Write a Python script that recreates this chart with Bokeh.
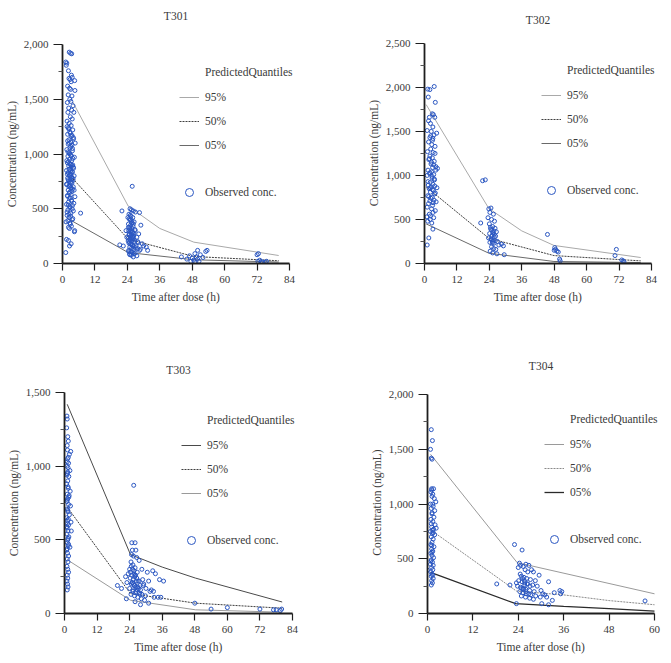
from bokeh.plotting import figure
from bokeh.layouts import column, row
from bokeh.models import (Range1d, FixedTicker, NumeralTickFormatter, Legend,
                          LegendItem, Label, Title)
from bokeh.embed import file_html
from bokeh.resources import INLINE

FONT = "Liberation Serif"
POINT_COLOR = "#2b57c2"
TEXT_COLOR = "#3a3a3a"

# ---------------- T301 ----------------
t301_time = [2.5, 3.0, 3.4, 1.2, 1.6, 1.4, 2.2, 3.3, 3.6, 2.4, 2.8, 3.2, 4.5, 1.9, 2.6, 3.0,
             4.6, 2.1, 3.5, 2.7, 3.1, 1.8, 3.9, 2.3, 3.4, 2.0, 4.2, 2.9, 3.6, 1.7, 2.5, 3.2,
             2.2, 3.8, 2.7, 1.9, 3.3, 4.0, 2.4, 3.0, 4.7, 2.1, 3.5, 2.8, 1.6, 3.7, 2.5, 3.1,
             2.0, 4.4, 2.6, 3.4, 1.8, 2.9, 3.8, 2.3, 3.2, 4.1, 2.7, 1.5, 3.6, 2.1, 3.0, 2.5,
             4.3, 3.4, 1.9, 2.8, 3.9, 2.3, 3.2, 1.6, 2.6, 4.0, 3.0, 2.1, 3.5, 2.5, 1.8, 4.6,
             2.9, 3.3, 2.2, 1.5, 3.7, 2.7, 2.0, 4.0, 3.1, 6.7, 1.7, 2.4, 3.6, 1.3, 2.9, 2.2,
             2.6, 4.4, 1.5, 2.2, 3.2, 2.6, 1.2,
             1.7, 2.3, 2.9, 3.5, 4.1, 1.9, 2.5, 3.1, 3.7, 2.0, 2.6, 3.2, 3.8, 1.6, 2.2, 2.8,
             3.4, 4.0, 2.4, 3.0, 3.6, 1.8, 2.7, 3.3, 3.9, 2.1, 2.9, 3.5, 1.5, 2.3, 3.1, 3.7,
             4.3, 2.6, 3.2, 1.9, 2.5, 3.4, 4.2, 2.2, 2.8, 3.6, 1.7, 2.4, 3.0, 3.8, 2.0, 2.7,
             3.3, 4.5,
             25.8, 22.0, 21.2, 25.0, 25.5, 26.2, 27.0, 28.5, 24.6, 25.3, 26.0, 24.9, 25.7,
             26.5, 24.4, 25.2, 26.1, 29.0, 24.8, 25.6, 26.8, 24.5, 25.1, 25.9, 24.7, 25.4,
             26.3, 27.5, 24.3, 25.0, 25.8, 26.6, 28.0, 24.6, 25.3, 26.0, 27.2, 30.0, 24.9,
             25.6, 26.4, 28.8, 31.5, 24.5, 25.2, 26.0, 26.9, 24.8, 25.5, 27.5, 26.2, 22.5,
             23.8, 25.1, 26.9, 27.8, 29.5, 31.0,
             24.2, 24.7, 25.2, 25.7, 26.2, 24.4, 24.9, 25.4, 25.9, 26.4, 24.6, 25.1, 25.6,
             26.1, 26.6, 24.3, 24.8, 25.3, 25.8, 26.3, 27.0, 27.8, 28.5, 24.5, 25.5, 26.5,
             25.0, 26.0, 23.5, 28.2,
             44.0, 46.0, 47.0, 48.0, 48.5, 49.0, 49.5, 50.0, 50.5, 51.0, 52.0, 53.0, 53.5,
             50.0, 47.5, 49.0,
             72.0, 72.5, 73.0, 74.0, 75.0, 72.3, 73.5, 75.5]
t301_conc = [1930, 1920, 1915, 1840, 1830, 1810, 1760, 1720, 1700, 1690, 1680, 1660, 1670,
             1620, 1600, 1590, 1580, 1540, 1530, 1500, 1480, 1470, 1440, 1420, 1400, 1380,
             1380, 1340, 1320, 1300, 1280, 1260, 1240, 1220, 1200, 1180, 1160, 1150, 1130,
             1110, 1100, 1090, 1080, 1060, 1040, 1030, 1010, 990, 980, 970, 950, 940, 920,
             910, 900, 890, 880, 870, 860, 850, 840, 830, 820, 810, 800, 790, 780, 770, 760,
             750, 740, 720, 710, 700, 690, 670, 660, 640, 620, 610, 600, 580, 560, 540, 530,
             510, 490, 480, 460, 460, 440, 420, 400, 380, 360, 330, 320, 290, 220, 210, 180,
             160, 100,
             1250, 1230, 1190, 1170, 1140, 1120, 1100, 1070, 1050, 1020, 1000, 985, 960, 940,
             930, 905, 895, 880, 860, 845, 835, 815, 800, 785, 775, 765, 745, 735, 725, 705,
             695, 680, 670, 650, 630, 615, 595, 570, 550, 535, 520, 500, 470, 450, 430, 410,
             390, 370, 340, 300,
             705, 480, 170, 500, 490, 480, 470, 465, 450, 430, 420, 400, 390, 380, 360, 350,
             340, 350, 330, 320, 310, 300, 290, 280, 270, 260, 250, 240, 230, 220, 210, 200,
             190, 185, 175, 165, 160, 160, 150, 140, 130, 130, 120, 120, 110, 100, 95, 85,
             75, 70, 60, 160, 240, 440, 300, 200, 180, 150,
             420, 410, 400, 370, 360, 330, 315, 300, 290, 270, 260, 245, 235, 225, 215, 205,
             195, 180, 170, 155, 145, 135, 120, 110, 105, 90, 80, 240, 300, 270,
             60, 40, 70, 50, 30, 90, 60, 40, 20, 80, 55, 110, 120, 120, 20, 15,
             80, 90, 30, 15, 10, 20, 15, 20]
t301_q95_time = [3.8, 24.3, 36.0, 48.6, 80.0]
t301_q95 = [1475, 525, 320, 195, 73]
t301_q50_time = [3.8, 24.3, 48.6, 80.0]
t301_q50 = [775, 223, 64, 25]
t301_q05_time = [1.6, 24.3, 48.6, 80.0]
t301_q05 = [415, 100, 34, 13]

# ---------------- T302 ----------------
t302_time = [1.2, 2.0, 3.6, 1.4, 4.0, 2.9, 3.3, 1.8, 3.8, 2.2, 3.1, 1.0, 2.5, 4.5, 3.5, 2.0,
             3.0, 1.5, 2.7, 3.9, 2.3, 1.1, 3.2, 2.0, 2.9, 1.6, 3.6, 2.4, 4.2, 3.0, 4.8, 1.3,
             2.6, 1.9, 3.4, 1.0, 2.8, 3.7, 2.1, 3.1, 1.4, 3.8, 2.5, 4.6, 1.7, 3.3, 2.2, 4.0,
             1.2, 2.9, 3.5, 2.0, 4.3, 1.5, 3.0, 1.0, 2.6, 3.2, 1.8, 0.9, 3.4, 2.1, 1.2, 2.7,
             3.1, 1.6, 1.0,
             1.5, 2.3, 3.1, 3.9, 1.8, 2.6, 3.4, 4.2, 2.0, 2.8, 3.6, 1.3, 2.1, 2.9, 3.7, 1.6,
             2.4, 3.2, 4.0, 2.2,
             21.5, 22.5, 20.8, 23.8, 24.6, 24.2, 25.5, 23.5, 24.8, 25.9, 24.0, 25.2, 26.1,
             24.5, 25.7, 26.6, 24.1, 25.0, 25.8, 23.7, 24.6, 25.4, 26.2, 27.0, 24.2, 25.1,
             28.5, 29.2, 24.8, 25.6, 26.4, 24.3, 25.2, 26.8, 29.5, 27.5,
             24.4, 24.9, 25.3, 25.8, 26.3, 24.7, 25.2, 25.7,
             45.5, 48.2, 48.0, 49.0, 49.5, 50.0, 50.2, 48.5, 71.0, 70.5, 73.0, 73.5, 73.8]
t302_conc = [1980, 1975, 2010, 1890, 1830, 1700, 1690, 1660, 1660, 1590, 1550, 1510, 1500,
             1480, 1460, 1430, 1400, 1380, 1350, 1330, 1300, 1270, 1260, 1220, 1200, 1180,
             1160, 1130, 1100, 1090, 1080, 1060, 1040, 1020, 1010, 1000, 970, 950, 920, 900,
             890, 880, 870, 860, 850, 830, 810, 800, 770, 750, 720, 710, 700, 680, 660, 640,
             620, 580, 560, 530, 520, 500, 480, 460, 390, 290, 210,
             1620, 1450, 1420, 1250, 1190, 1150, 1120, 1060, 1030, 990, 960, 930, 860, 840,
             790, 760, 740, 690, 600, 540,
             940, 950, 460, 620, 630, 580, 560, 520, 500, 480, 450, 420, 400, 390, 370, 360,
             340, 320, 300, 290, 280, 270, 260, 250, 240, 230, 220, 200, 190, 170, 160, 140,
             120, 110, 100, 210,
             410, 380, 350, 330, 310, 270, 250, 230,
             330, 180, 150, 140, 130, 50, 30, 160, 160, 90, 40, 30, 20]
t302_q95_time = [0.6, 23.8, 36.0, 47.9, 80.0]
t302_q95 = [1805, 625, 370, 205, 68]
t302_q50_time = [0.6, 23.8, 47.9, 80.0]
t302_q50 = [870, 287, 90, 30]
t302_q05_time = [0.6, 23.8, 47.9, 80.0]
t302_q05 = [450, 117, 23, 11]

# ---------------- T303 ----------------
t303_time = [0.9, 1.0, 0.8, 1.2, 1.4, 1.0, 2.3, 1.8, 1.1, 1.5, 0.9, 1.3, 2.0, 1.0, 1.6, 1.2,
             0.8, 1.4, 2.1, 1.0, 1.7, 1.2, 0.9, 1.5, 2.2, 1.0, 1.3, 1.8, 0.8, 1.1, 2.4, 1.5,
             1.0, 1.3, 2.5, 0.9, 1.6, 1.2, 1.0, 1.4, 2.0, 0.8, 1.1, 1.5, 1.0, 1.3, 0.9, 1.2,
             1.5, 1.0, 1.2, 0.9, 1.1, 1.3, 1.0,
             1.1, 1.4, 1.0, 1.2, 0.9, 1.3, 1.6, 1.0, 1.2, 1.4, 1.1, 0.9, 1.3, 1.5, 1.0,
             25.5, 24.8, 26.0, 25.0, 26.3, 24.7, 25.4, 26.6, 27.5, 28.5, 24.5, 25.2, 26.0,
             24.0, 25.6, 26.8, 23.5, 24.8, 25.9, 30.5, 32.5, 33.5, 35.0, 22.5, 24.2, 25.3,
             26.5, 27.5, 28.8, 31.0, 23.0, 24.6, 25.7, 27.0, 29.0, 30.0, 32.0, 19.5, 21.0,
             24.0, 25.2, 26.3, 27.6, 28.5, 31.5, 33.0, 34.5, 35.5, 24.5, 25.8, 27.0, 28.3,
             29.5, 22.8, 26.0, 28.0, 31.0, 25.0, 26.8, 29.8, 32.8, 24.3, 26.1, 27.8, 36.5,
             24.6, 25.1, 25.6, 26.1, 26.6, 27.1, 24.9, 25.4, 25.9, 26.4, 27.3, 28.0, 25.2,
             26.2, 27.8, 29.2,
             48.0, 54.0, 60.0, 72.0, 77.0, 78.0, 80.0, 79.5]
t303_conc = [1340, 1320, 1260, 1200, 1170, 1140, 1100, 1080, 1050, 1020, 1000, 990, 970, 950,
             930, 900, 880, 850, 830, 810, 800, 780, 760, 740, 730, 710, 690, 670, 650, 630,
             620, 600, 580, 560, 560, 540, 520, 500, 480, 460, 450, 430, 410, 390, 370, 350,
             320, 300, 280, 260, 240, 220, 200, 180, 160,
             1110, 1060, 1030, 960, 940, 860, 790, 770, 700, 640, 610, 590, 510, 470, 440,
             870, 480, 480, 430, 430, 400, 390, 380, 360, 300, 350, 330, 310, 300, 290, 280,
             270, 260, 250, 280, 290, 270, 230, 250, 240, 230, 220, 220, 230, 220, 210, 200,
             190, 180, 190, 170, 160, 190, 170, 170, 160, 150, 140, 130, 150, 110, 110, 110,
             130, 120, 110, 100, 90, 100, 80, 60, 70, 210, 160, 120, 150, 280, 260, 190, 220,
             320, 300, 270, 260, 240, 220, 210, 200, 190, 180, 170, 160, 150, 140, 130, 200,
             70, 30, 40, 30, 25, 25, 30, 20]
t303_q95_time = [1.0, 24.3, 36.0, 48.3, 80.2]
t303_q95 = [1420, 400, 315, 240, 78]
t303_q50_time = [1.0, 24.3, 48.3, 80.2]
t303_q50 = [722, 135, 70, 36]
t303_q05_time = [1.0, 24.3, 48.3, 80.2]
t303_q05 = [365, 90, 25, 9]

# ---------------- T304 ----------------
t304_time = [1.0, 1.3, 0.8, 1.0, 1.2, 1.1, 1.6, 0.9, 1.4, 1.2, 1.8, 2.2, 0.8, 1.5, 1.0, 1.9,
             1.2, 1.7, 0.9, 1.4, 2.0, 1.1, 2.3, 1.6, 0.8, 1.3, 1.9, 1.0, 1.5, 1.2, 0.9, 1.7,
             1.1, 1.4, 0.9, 1.2, 1.6, 1.0, 1.3, 0.8, 1.5, 1.1, 1.4, 0.9, 1.2, 1.0, 1.5, 1.1,
             1.3, 1.0, 0.0,
             1.1, 1.4, 1.2, 1.0, 1.3, 1.5, 1.1, 1.2, 0.9, 1.4,
             23.0, 25.0, 18.3, 21.8, 23.5, 24.3, 24.6, 25.3, 26.0, 26.8, 27.5, 24.0, 25.8,
             26.5, 28.0, 29.5, 24.8, 25.5, 26.2, 27.2, 28.5, 24.1, 25.0, 25.7, 26.5, 27.8,
             29.0, 32.0, 23.8, 24.6, 25.3, 26.0, 27.0, 28.2, 30.0, 30.5, 31.0, 33.5, 35.0,
             35.5, 24.4, 25.2, 26.1, 27.3, 28.6, 29.8, 31.5, 24.8, 25.9, 27.0, 28.0, 33.0,
             30.2, 32.0, 23.5, 57.5, 35.2,
             24.5, 25.1, 25.6, 26.3, 27.1, 25.4, 26.0, 26.8, 24.9, 25.7]
t304_conc = [1680, 1580, 1500, 1420, 1410, 1140, 1140, 1110, 1090, 1070, 1050, 1020, 1000,
             980, 960, 940, 910, 880, 860, 840, 810, 790, 780, 770, 750, 730, 720, 700, 680,
             650, 630, 610, 590, 570, 550, 530, 510, 490, 470, 450, 440, 420, 400, 380, 360,
             340, 320, 300, 280, 260, 395,
             1130, 1000, 920, 820, 760, 740, 620, 560, 480, 350,
             630, 580, 270, 260, 280, 460, 440, 430, 450, 440, 400, 420, 400, 380, 380, 350,
             340, 330, 320, 310, 300, 300, 290, 280, 270, 260, 250, 290, 250, 240, 230, 220,
             210, 200, 210, 180, 170, 190, 210, 200, 200, 190, 180, 170, 160, 150, 150, 160,
             150, 140, 130, 120, 90, 80, 90, 115, 180,
             360, 320, 300, 270, 250, 220, 200, 180, 230, 260]
t304_q95_time = [0.8, 23.7, 60.0]
t304_q95 = [1455, 465, 180]
t304_q50_time = [0.8, 23.5, 36.0, 48.0, 60.0]
t304_q50 = [765, 205, 170, 118, 80]
t304_q05_time = [0.8, 23.3, 36.0, 48.0, 60.0]
t304_q05 = [375, 90, 66, 45, 21]

quantile_labels = ["95%", "50%", "05%"]
legend_title = "PredictedQuantiles"
observed_label = "Observed conc."
x_axis_title = "Time after dose (h)"
y_axis_title = "Concentration (ng/mL)"

# approximate rendered widths (px) of the axis titles at 11.5px, used to centre
# them on the bounded axes rather than on the whole frame
X_TITLE_W = 88.5
Y_TITLE_W = 106.5


def style_legend(lg):
    lg.label_text_font = FONT
    lg.label_text_font_size = "11.5px"
    lg.label_text_color = TEXT_COLOR
    lg.glyph_width = 20
    lg.glyph_height = 20
    lg.label_height = 20
    lg.label_standoff = 6
    lg.spacing = 4
    lg.padding = 0
    lg.margin = 0
    lg.border_line_alpha = 0
    lg.background_fill_alpha = 0


def axis_title(text, offset, standoff):
    return Title(text=text, align="left", offset=offset, standoff=standoff,
                 text_font=FONT, text_font_size="11.5px", text_font_style="normal",
                 text_color=TEXT_COLOR)


def make_panel(name, times, concs, quantiles, styles, x_max, x_step, y_max,
               width, height, left, bottom, axis_w, axis_h, title_gap):
    # The frame reaches almost to the top/right edges of the canvas so that the
    # title and the legend (both drawn inside it) are never clipped; the axes
    # themselves are bounded to the data extent.
    frame_w = width - left - 3
    frame_h = height - bottom - 3
    x_end = x_max * frame_w / axis_w
    y_end = y_max * frame_h / axis_h
    p = figure(width=width, height=height, output_backend="svg", toolbar_location=None,
               x_range=Range1d(0, x_end), y_range=Range1d(0, y_end),
               min_border_left=left, min_border_right=3,
               min_border_top=3, min_border_bottom=bottom)
    p.outline_line_color = None
    p.grid.visible = False
    p.background_fill_color = "white"
    p.border_fill_color = "white"

    p.xaxis.bounds = (0, x_max)
    p.yaxis.bounds = (0, y_max)
    p.xaxis.ticker = FixedTicker(ticks=list(range(0, x_max + 1, x_step)), minor_ticks=[])
    p.yaxis.ticker = FixedTicker(ticks=list(range(0, y_max + 1, 500)),
                                 minor_ticks=list(range(250, y_max, 500)))
    p.yaxis.formatter = NumeralTickFormatter(format="0,0")
    for ax in (p.xaxis, p.yaxis):
        ax.axis_line_color = "#1e1e1e"
        ax.axis_line_width = 1.8
        ax.major_tick_line_color = "#1e1e1e"
        ax.major_tick_line_width = 1.2
        ax.minor_tick_line_color = "#555555"
        ax.major_tick_in = 0
        ax.minor_tick_in = 0
        ax.major_label_text_font = FONT
        ax.major_label_text_font_size = "11px"
        ax.major_label_text_color = TEXT_COLOR
    p.xaxis.major_tick_out = 7
    p.xaxis.major_label_standoff = 5
    p.yaxis.major_tick_out = 9
    p.yaxis.minor_tick_out = 4
    p.yaxis.major_label_standoff = 5

    p.add_layout(axis_title(x_axis_title, axis_w / 2 - X_TITLE_W / 2, 6), "below")
    p.add_layout(axis_title(y_axis_title, axis_h / 2 - Y_TITLE_W / 2, 6), "left")

    line_renderers = []
    for (qt, qv), st in zip(quantiles, styles):
        r = p.line(qt, qv, line_color=st["color"], line_width=st.get("width", 1.0),
                   line_dash=st.get("dash", "solid"))
        line_renderers.append(r)

    pts = p.scatter(times, concs, marker="circle", size=4, fill_alpha=0,
                    line_color=POINT_COLOR, line_width=1.0)

    # panel title, centred over the x axis
    p.add_layout(Label(x=axis_w / 2, y=axis_h + title_gap, x_units="screen",
                       y_units="screen", text=name, text_font=FONT,
                       text_font_size="11.5px", text_color=TEXT_COLOR,
                       text_align="center", text_baseline="middle"))

    # legend heading: an entry whose glyph is an empty, fully transparent line
    heading = p.line(x=[], y=[], line_alpha=0)
    head_legend = Legend(items=[LegendItem(label=legend_title, renderers=[heading])],
                         location=(117, axis_h - 38))
    line_legend = Legend(items=[LegendItem(label=lab, renderers=[r])
                                for lab, r in zip(quantile_labels, line_renderers)],
                         location=(117, axis_h - 111))
    obs_legend = Legend(items=[LegendItem(label=observed_label, renderers=[pts])],
                        location=(117, axis_h - 158))
    for lg in (head_legend, line_legend, obs_legend):
        style_legend(lg)
        p.add_layout(lg, "center")
    return p


std_styles = [dict(color="#a9a9a9"), dict(color="#3e3e3e", dash="2 1"), dict(color="#6a6a6a")]

p1 = make_panel("T301", t301_time, t301_conc,
                [(t301_q95_time, t301_q95), (t301_q50_time, t301_q50), (t301_q05_time, t301_q05)],
                std_styles, 84, 12, 2000, 335, 330, 62, 67, 227, 219, 29)
p2 = make_panel("T302", t302_time, t302_conc,
                [(t302_q95_time, t302_q95), (t302_q50_time, t302_q50), (t302_q05_time, t302_q05)],
                std_styles, 84, 12, 2500, 336, 330, 89, 66, 227, 221, 23)
p3 = make_panel("T303", t303_time, t303_conc,
                [(t303_q95_time, t303_q95), (t303_q50_time, t303_q50), (t303_q05_time, t303_q05)],
                [dict(color="#4a4a4a"), dict(color="#3e3e3e", dash="2 1"), dict(color="#9a9a9a")],
                84, 12, 1500, 335, 333, 64, 50, 228, 221, 23)
p4 = make_panel("T304", t304_time, t304_conc,
                [(t304_q95_time, t304_q95), (t304_q50_time, t304_q50), (t304_q05_time, t304_q05)],
                [dict(color="#9a9a9a"), dict(color="#8a8a8a", dash="2 1"),
                 dict(color="#2a2a2a", width=1.3)],
                60, 12, 2000, 336, 333, 92, 46, 227, 222, 26)

layout = column(row(p1, p2), row(p3, p4))
open("out.html", "w").write(file_html(layout, INLINE))
